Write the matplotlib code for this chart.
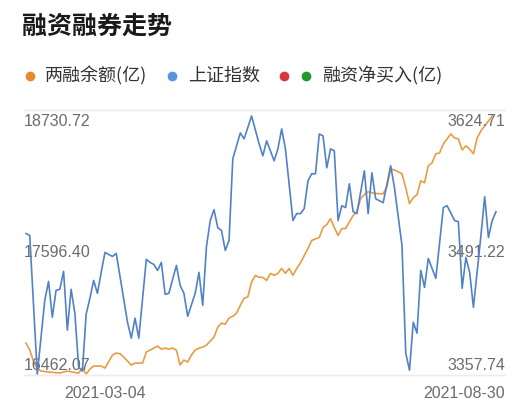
import matplotlib
matplotlib.use('Agg')
import matplotlib.pyplot as plt

plt.rcParams['font.family'] = ['Noto Sans CJK SC', 'DejaVu Sans']

# 两融余额(亿) - trading-day index / value
margin_day = [0, 1, 2, 3, 4, 6, 9, 11, 13, 14, 15, 16, 17, 18, 19, 20, 21, 23, 24, 25,
              26, 28, 29, 31, 32, 34, 35, 36, 37, 38, 39, 40, 41, 42, 43, 44, 45, 46, 47, 48,
              50, 51, 52, 53, 54, 55, 56, 57, 58, 59, 60, 61, 62, 63, 64, 65, 66, 67, 68, 69,
              70, 71, 72, 73, 75, 76, 77, 78, 79, 80, 81, 82, 83, 84, 85, 87, 88, 89, 90, 91,
              92, 93, 94, 95, 96, 97, 98, 99, 100, 101, 102, 103, 104, 105, 106, 107, 108, 109, 110, 111,
              112, 113, 114, 115, 116, 117, 118, 119, 120, 121, 122, 123, 124]
margin_val = [16733.6, 16672.3, 16575.0, 16510.0, 16488.0, 16479.6, 16471.0, 16488.0, 16475.0, 16470.0,
              16514.0, 16462.07, 16505.0, 16532.0, 16532.0, 16532.0, 16514.0, 16628.0, 16646.0, 16640.0,
              16611.0, 16541.0, 16558.0, 16558.0, 16655.0, 16690.0, 16707.0, 16681.0, 16690.0, 16681.0,
              16690.0, 16672.0, 16541.0, 16585.0, 16567.0, 16629.0, 16672.0, 16690.0, 16699.0, 16716.0,
              16786.0, 16874.0, 16909.0, 16900.0, 16953.0, 16970.0, 16996.0, 17066.0, 17128.0, 17140.0,
              17270.0, 17329.0, 17312.0, 17312.0, 17285.0, 17347.0, 17330.0, 17347.0, 17390.0, 17347.0,
              17390.0, 17330.0, 17390.0, 17440.0, 17566.0, 17636.0, 17650.0, 17662.0, 17750.0, 17776.0,
              17828.0, 17750.0, 17680.0, 17741.0, 17741.0, 17855.0, 17890.0, 18004.0, 18040.0, 18065.0,
              18056.0, 18050.0, 18047.0, 18047.0, 18110.0, 18266.0, 18255.0, 18240.0, 18223.0, 18100.0,
              17960.0, 18012.0, 18039.0, 18161.0, 18144.0, 18293.0, 18319.0, 18398.0, 18406.0, 18485.0,
              18530.0, 18573.0, 18538.0, 18529.0, 18433.0, 18468.0, 18440.0, 18398.0, 18538.0, 18600.0,
              18643.0, 18687.0, 18730.72]

# 上证指数
index_day = [0, 1, 3, 5, 6, 7, 8, 9, 10, 11, 12, 13, 14, 15, 16, 17, 18, 19, 20, 21,
             23, 24, 27, 28, 29, 30, 32, 33, 34, 35, 36, 37, 38, 40, 41, 42, 43, 45, 46, 47,
             48, 49, 50, 51, 52, 53, 54, 55, 57, 58, 60, 62, 63, 64, 66, 67, 68, 69, 71, 72,
             73, 74, 75, 76, 77, 78, 79, 80, 81, 82, 83, 84, 85, 86, 87, 88, 90, 91, 92, 93,
             95, 97, 98, 100, 101, 102, 103, 104, 105, 106, 107, 109, 111, 112, 114, 115, 116, 117, 118, 119,
             121, 122, 123, 124, 125]
index_val = [3503.1, 3501.0, 3357.74, 3434.0, 3453.6, 3416.5, 3444.3, 3445.4, 3463.9, 3403.1,
             3445.4, 3420.6, 3364.9, 3360.8, 3419.6, 3436.1, 3454.6, 3441.2, 3462.9, 3483.5,
             3479.4, 3482.5, 3411.3, 3394.8, 3415.5, 3394.8, 3476.3, 3473.2, 3471.1, 3464.9,
             3473.2, 3440.2, 3441.2, 3470.1, 3449.5, 3441.2, 3417.5, 3441.2, 3462.9, 3428.9,
             3489.7, 3516.5, 3527.8, 3509.3, 3506.2, 3485.6, 3495.9, 3580.4, 3607.2, 3601.0,
             3624.71, 3595.9, 3583.5, 3599.0, 3578.3, 3590.7, 3611.3, 3590.7, 3516.5, 3523.7,
             3523.7, 3528.9, 3557.7, 3564.9, 3564.9, 3606.1, 3604.1, 3571.1, 3590.7, 3588.6,
             3516.5, 3531.9, 3529.9, 3554.6, 3525.7, 3523.7, 3568.0, 3523.7, 3565.9, 3539.1,
             3535.0, 3573.2, 3550.5, 3490.7, 3379.4, 3361.6, 3411.3, 3400.0, 3464.9, 3447.4,
             3477.3, 3456.7, 3529.9, 3531.9, 3516.5, 3515.4, 3446.4, 3478.3, 3462.9, 3426.8,
             3501.0, 3541.2, 3498.9, 3516.5, 3525.7]

x_ticks = [21, 125]
x_labels = ['2021-03-04', '2021-08-30']

legend_labels = ['两融余额(亿)', '上证指数', '融资净买入(亿)']

orange = '#e99c45'
blue = '#5282c6'
grey = '#6b6b6b'

fig = plt.figure(figsize=(5.2, 4.03), dpi=100)
ax = fig.add_axes([24 / 520, 28 / 403, 481 / 520, 265 / 403])
ax2 = ax.twinx()

lo, hi = min(margin_val), max(margin_val)
step = (hi - lo) / 258
ax.set_ylim(lo - step, hi + 6 * step)
ax.plot(margin_day, margin_val, color=orange, lw=1.2, zorder=2)

lo2, hi2 = min(index_val), max(index_val)
step2 = (hi2 - lo2) / 258
ax2.set_ylim(lo2 - step2, hi2 + 6 * step2)
ax2.plot(index_day, index_val, color=blue, lw=1.2, zorder=3)

for a in (ax, ax2):
    a.set_xlim(-0.53, 127.4)
    a.set_yticks([])
    a.set_xticks([])
    for s in ['left', 'right']:
        a.spines[s].set_visible(False)
    for s in ['top', 'bottom']:
        a.spines[s].set_color('#ececec')
        a.spines[s].set_linewidth(1)

# axis labels inside the plot (min / mid / max)
lab_y = [0.955, 0.464, 0.034]
left_vals = [hi, (hi + lo) / 2, lo]
right_vals = [hi2, (hi2 + lo2) / 2, lo2]
for yy, lv, rv in zip(lab_y, left_vals, right_vals):
    ax2.text(0.0, yy, f'{lv:.2f}', transform=ax.transAxes, ha='left', va='center',
             fontsize=11.5, color=grey, family='Liberation Sans', zorder=1)
    ax2.text(1.0, yy, f'{rv:.2f}', transform=ax.transAxes, ha='right', va='center',
             fontsize=11.5, color=grey, family='Liberation Sans', zorder=1)

# x labels
ax.text(x_ticks[0], -0.068, x_labels[0], transform=ax.get_xaxis_transform(), ha='center',
        va='center', fontsize=11.5, color=grey, family='Liberation Sans')
ax.text(1.0, -0.068, x_labels[1], transform=ax.transAxes, ha='right',
        va='center', fontsize=11.5, color=grey, family='Liberation Sans')

# title
fig.text(22 / 520, 1 - 27 / 403, '融资融券走势', fontsize=18, fontweight='bold',
         color='#1a1a1a', ha='left', va='center')

# legend row
lg = fig.add_axes([0, 0, 1, 1])
lg.set_xlim(0, 520)
lg.set_ylim(403, 0)
lg.axis('off')
lg.patch.set_alpha(0)
dots = [(30, ['#e8892e']), (172, ['#5b93dd']), (284, ['#d7373a', '#1f9a2e'])]
text_x = [45, 188, 322]
for (dx, cols), tx, lab in zip(dots, text_x, legend_labels):
    for k, c in enumerate(cols):
        lg.plot(dx + 22 * k, 76, 'o', color=c, ms=7, mec='none')
    lg.text(tx, 76, lab, fontsize=13, color='#333333', ha='left', va='center')

fig.savefig('out.png', dpi=100)
